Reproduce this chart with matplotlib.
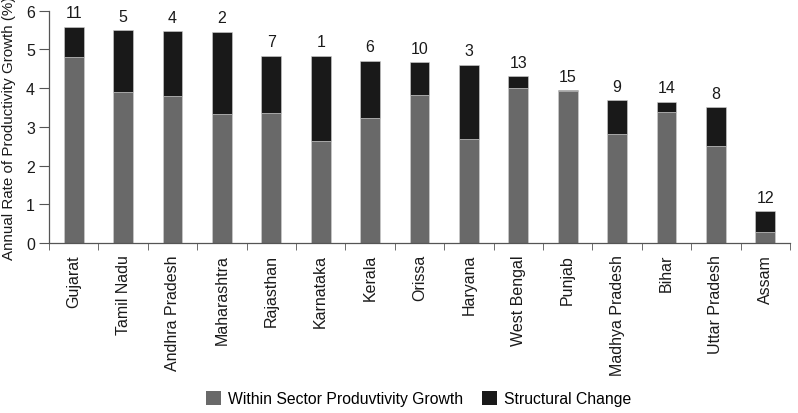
import numpy as np
import matplotlib.pyplot as plt
from matplotlib.patches import Patch

states = ["Gujarat", "Tamil Nadu", "Andhra Pradesh", "Maharashtra", "Rajasthan",
          "Karnataka", "Kerala", "Orissa", "Haryana", "West Bengal", "Punjab",
          "Madhya Pradesh", "Bihar", "Uttar Pradesh", "Assam"]
within = [4.81, 3.90, 3.81, 3.32, 3.37, 2.64, 3.22, 3.82, 2.69, 4.00, 3.93, 2.82, 3.38, 2.51, 0.28]
total = [5.58, 5.49, 5.47, 5.46, 4.84, 4.83, 4.71, 4.67, 4.60, 4.31, 3.95, 3.69, 3.65, 3.51, 0.82]
ranks = [11, 5, 4, 2, 7, 1, 6, 10, 3, 13, 15, 9, 14, 8, 12]

structural = [t - w for t, w in zip(total, within)]

plt.rcParams['font.family'] = ['Liberation Sans', 'DejaVu Sans']

fig = plt.figure(figsize=(7.98, 4.14), dpi=100)
ax = fig.add_axes([0.0614, 0.4106, 0.9286, 0.5611])

x = np.arange(len(states))
gray = "#696969"
dark = "#191919"
ax.bar(x, within, width=0.4, color=gray, edgecolor="#d0d0d0", linewidth=0.4)
ax.bar(x, structural, bottom=within, width=0.4, color=dark, edgecolor="#d0d0d0", linewidth=0.4)

for xi, t, r in zip(x, total, ranks):
    ax.text(xi, t + 0.17, str(r), ha="center", va="bottom", fontsize=11.5, color="#1a1a1a")

ax.set_xlim(-0.5, len(states) - 0.5)
ax.set_ylim(0, 6)
ax.set_yticks(range(7))
ax.set_xticks(x)
ax.set_xticklabels(states, rotation=90, fontsize=11.5, color="#1a1a1a")
ax.tick_params(axis="x", length=0, pad=8)
ax.set_xticks(np.arange(-0.5, len(states)), minor=True)
ax.tick_params(axis="x", which="minor", length=5, direction="out", color="#555555")
ax.tick_params(axis="y", length=7, direction="out", pad=3, labelsize=11.5, color="#555555", labelcolor="#1a1a1a")

for s in ["top", "right"]:
    ax.spines[s].set_visible(False)
for s in ["left", "bottom"]:
    ax.spines[s].set_color("#555555")
    ax.spines[s].set_linewidth(0.9)

ax.set_ylabel("Annual Rate of Productivity Growth (%)", fontsize=10.9, color="#1a1a1a", labelpad=7)

handles = [Patch(facecolor=gray, label="Within Sector Produvtivity Growth"),
           Patch(facecolor=dark, label="Structural Change")]
fig.legend(handles=handles, loc="center", bbox_to_anchor=(0.5245, 0.034), ncol=2, frameon=False,
           fontsize=11.3, handlelength=0.95, handleheight=0.9, handletextpad=0.45, columnspacing=1.2)

fig.savefig("out.png", dpi=100)
